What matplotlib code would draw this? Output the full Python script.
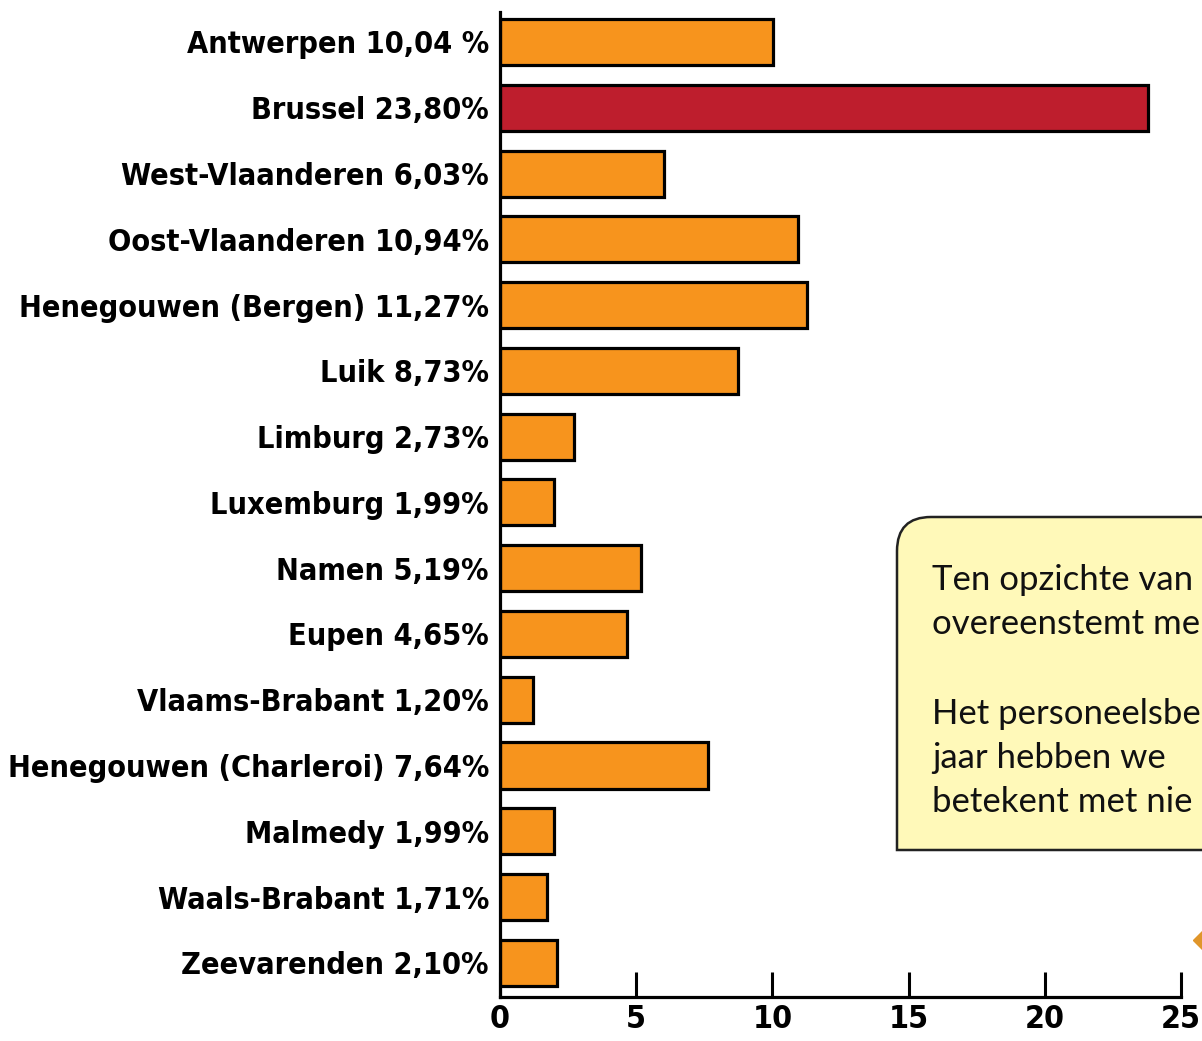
import matplotlib.pyplot as plt
from matplotlib.path import Path
from matplotlib.patches import PathPatch

regions = ["Antwerpen", "Brussel", "West-Vlaanderen", "Oost-Vlaanderen",
           "Henegouwen (Bergen)", "Luik", "Limburg", "Luxemburg", "Namen",
           "Eupen", "Vlaams-Brabant", "Henegouwen (Charleroi)", "Malmedy",
           "Waals-Brabant", "Zeevarenden"]
shares = [10.04, 23.80, 6.03, 10.94, 11.27, 8.73, 2.73, 1.99, 5.19,
          4.65, 1.20, 7.64, 1.99, 1.71, 2.10]
share_labels = ["10,04 %", "23,80%", "6,03%", "10,94%", "11,27%", "8,73%",
                "2,73%", "1,99%", "5,19%", "4,65%", "1,20%", "7,64%",
                "1,99%", "1,71%", "2,10%"]
highlight = "Brussel"
x_ticks = [0, 5, 10, 15, 20, 25]

# the note runs off the right edge of the page, only this part is visible
box_lines = ["Ten opzichte van", "overeenstemt me", "",
             "Het personeelsbe", "jaar hebben we", "betekent met nie"]

ORANGE = "#F7941D"
RED = "#BE1E2D"
LABEL_FONT = ["DejaVu Sans"]

W, H = 1202, 1041
fig = plt.figure(figsize=(W / 100, H / 100), dpi=100)
ax = fig.add_axes([500 / W, 1 - 997 / H, (1181 - 500) / W, (997 - 12) / H])

ypos = list(range(len(regions)))
colors = [RED if r == highlight else ORANGE for r in regions]
ax.barh(ypos, shares, height=0.7, color=colors, edgecolor="black", linewidth=2.3, zorder=2)

ax.set_ylim(len(regions) - 1 + 0.52, -0.456)
ax.set_xlim(0, 25)
ax.set_yticks(ypos)
ax.set_yticklabels([f"{r} {s}" for r, s in zip(regions, share_labels)],
                   family=LABEL_FONT, fontweight="bold", fontstretch="condensed",
                   fontsize=22)
ax.tick_params(axis="y", length=0, pad=8)
ax.set_xticks(x_ticks)
ax.set_xticklabels([str(t) for t in x_ticks], family=LABEL_FONT,
                   fontweight="bold", fontstretch="condensed", fontsize=23)
ax.tick_params(axis="x", direction="in", length=18, width=2.2, pad=5)

for s in ["top", "right"]:
    ax.spines[s].set_visible(False)
for s in ["left", "bottom"]:
    ax.spines[s].set_linewidth(2.3)

# note box, only its top-left corner is rounded; right side runs off the page
x0, y0, x1, y1, r = 897, H - 850, 1260, H - 517, 34
verts = [(x0, y0), (x0, y1 - r), (x0, y1), (x0 + r, y1), (x1, y1), (x1, y0), (x0, y0)]
codes = [Path.MOVETO, Path.LINETO, Path.CURVE3, Path.CURVE3, Path.LINETO, Path.LINETO, Path.CLOSEPOLY]
verts = [(x / W, y / H) for x, y in verts]
fig.patches.append(PathPatch(Path(verts, codes), transform=fig.transFigure,
                             facecolor="#FFF9B9", edgecolor="#222222", linewidth=1.8))

line_y = 580
for line in box_lines:
    if line:
        fig.text(932 / W, 1 - line_y / H, line, fontsize=25, family=["Lato", "DejaVu Sans"],
                 va="center", ha="left", color="#111111")
    line_y += 44.5

fig.lines.append(plt.Line2D([1207 / W], [1 - 940 / H], transform=fig.transFigure,
                            marker="D", markersize=14, color="#E0962A", linestyle="none"))

fig.savefig("out.png", dpi=100)
